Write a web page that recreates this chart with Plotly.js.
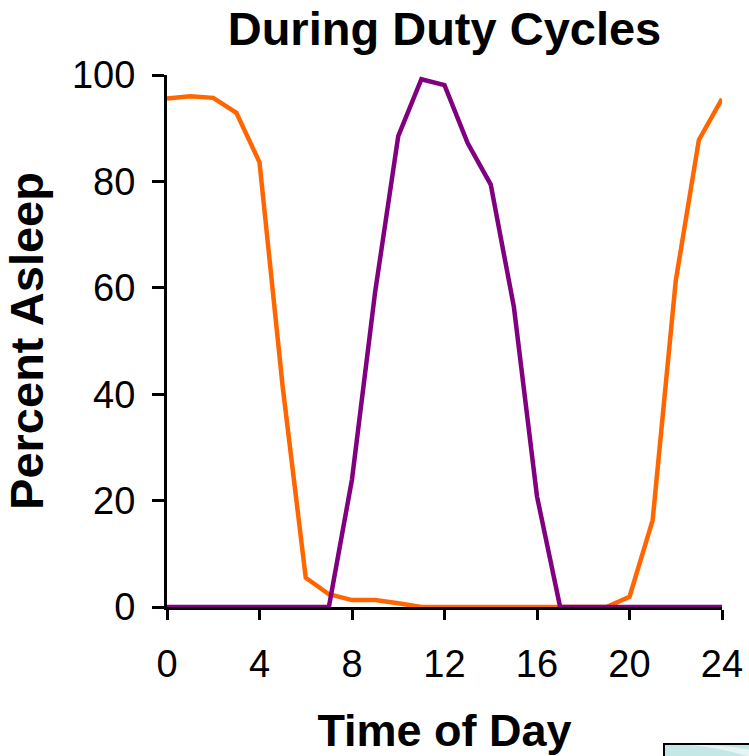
<!DOCTYPE html>
<html>
<head>
<meta charset="utf-8">
<script src="https://cdn.plot.ly/plotly-3.0.1.min.js"></script>
<style>
  html, body { margin: 0; padding: 0; background: #ffffff; }
  #chart { width: 749px; height: 756px; }
</style>
</head>
<body>
<div id="chart"></div>
<script>
// Hour of day (0-24)
const hours = [0, 1, 2, 3, 4, 5, 6, 7, 8, 9, 10, 11, 12, 13, 14, 15, 16, 17, 18, 19, 20, 21, 22, 23, 24];

// Percent of animals asleep, night-time duty cycle (orange)
const nightAsleep = [95.6, 96.0, 95.7, 92.9, 83.6, 41.5, 5.5, 2.4, 1.3, 1.3, 0.7, 0, 0, 0, 0, 0, 0, 0, 0, 0, 1.9, 16.3, 61.3, 87.8, 95.5];

// Percent of animals asleep, day-time duty cycle (purple)
const dayAsleep = [0, 0, 0, 0, 0, 0, 0, 0, 24.0, 59.2, 88.5, 99.2, 98.1, 87.2, 79.4, 56.4, 20.8, 0, 0, 0, 0, 0, 0, 0, 0];

const xTicks = [0, 4, 8, 12, 16, 20, 24];
const yTicks = [0, 20, 40, 60, 80, 100];

const FONT = '"Liberation Sans", Arial, Helvetica, sans-serif';

const traces = [
  {
    x: hours, y: nightAsleep, type: 'scatter', mode: 'lines',
    line: { color: '#FF6600', width: 4.5 },
    hoverinfo: 'x+y', showlegend: false
  },
  {
    x: hours, y: dayAsleep, type: 'scatter', mode: 'lines',
    line: { color: '#800080', width: 4.5 },
    hoverinfo: 'x+y', showlegend: false
  }
];

const layout = {
  width: 749, height: 756,
  margin: { l: 167, r: 27, t: 75, b: 149, pad: 0 },
  paper_bgcolor: '#ffffff', plot_bgcolor: '#ffffff',
  font: { family: FONT, color: '#000000' },
  title: {
    text: '<b>During Duty Cycles</b>',
    font: { family: FONT, size: 47, color: '#000000' },
    x: 0.5, xref: 'paper', xanchor: 'center',
    y: 0.962, yref: 'container', yanchor: 'middle'
  },
  xaxis: {
    range: [0, 24],
    tickmode: 'array', tickvals: xTicks, ticktext: xTicks.map(String),
    showgrid: false, zeroline: false,
    showline: true, linecolor: '#000000', linewidth: 3,
    ticks: 'outside', ticklen: 10, tickwidth: 3, tickcolor: '#000000',
    tickfont: { family: FONT, size: 38, color: '#000000' },
    ticklabelstandoff: 11,
    title: {
      text: '<b>Time of Day</b>',
      font: { family: FONT, size: 45, color: '#000000' },
      standoff: 34
    },
    fixedrange: true
  },
  yaxis: {
    range: [0, 100],
    tickmode: 'array', tickvals: yTicks, ticktext: yTicks.map(String),
    showgrid: false, zeroline: false,
    showline: true, linecolor: '#000000', linewidth: 3,
    ticks: 'outside', ticklen: 12, tickwidth: 3, tickcolor: '#000000',
    tickfont: { family: FONT, size: 38, color: '#000000' },
    ticklabelstandoff: 9,
    title: {
      text: '<b>Percent Asleep</b>',
      font: { family: FONT, size: 47, color: '#000000' },
      standoff: 14
    },
    fixedrange: true
  },
  shapes: [
    // teal clip-art panel peeking in at the lower right corner
    {
      type: 'rect', xref: 'paper', yref: 'paper',
      x0: 0.8955, x1: 1.2, y0: -0.2575, y1: -0.4,
      line: { color: '#000000', width: 2 },
      fillcolor: '#c4e8e6', layer: 'above'
    },
    {
      type: 'path', xref: 'paper', yref: 'paper',
      path: 'M 0.94,-0.2595 Q 0.99,-0.262 1.06,-0.285 L 1.06,-0.27 Q 1.0,-0.2595 0.97,-0.2595 Z',
      line: { width: 0 },
      fillcolor: '#e6f5f4', layer: 'above'
    }
  ]
};

Plotly.newPlot('chart', traces, layout, { displayModeBar: false, staticPlot: true });
</script>
</body>
</html>
